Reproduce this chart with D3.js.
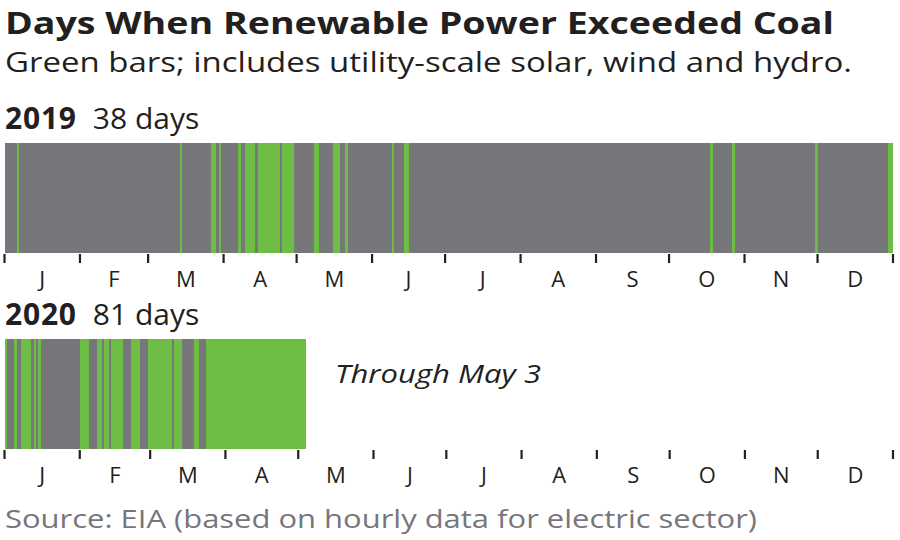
<!DOCTYPE html>
<html>
<head>
<meta charset="utf-8">
<script src="https://cdn.jsdelivr.net/npm/d3@7"></script>
<style>
  body { margin: 0; background: #fff; }
  svg { display: block; font-family: "Open Sans", "Noto Sans", sans-serif; }
</style>
</head>
<body>
<div id="chart"></div>
<script>
// day-of-year indices (0 = Jan 1) where renewables beat coal
const greenDays2019 = [5, 72, 85, 86, 88, 96, 99, 100, 101, 102,
    104, 105, 106, 107, 108, 109, 110, 111, 112, 114, 115, 116, 117, 118,
    127, 128, 135, 136, 137, 140, 159, 164, 165, 290, 299, 333, 363, 364];
const greenDays2020 = [0, 4, 7, 8, 9, 10, 12, 14, 31, 32, 33, 34, 38, 39, 41, 42,
    44, 45, 46, 47, 48, 52, 53, 54, 55, 59, 60, 61, 62, 63, 64, 65, 66, 67, 68,
    70, 71, 72, 78, 79,
    83, 84, 85, 86, 87, 88, 89, 90, 91, 92, 93, 94, 95, 96, 97, 98, 99, 100,
    101, 102, 103, 104, 105, 106, 107, 108, 109, 110, 111, 112, 113, 114, 115,
    116, 117, 118, 119, 120, 121, 122, 123];
const years = [2019, 2020];
const daysCovered = [365, 124];      // 2020 data runs through May 3
const dayCounts = ["38 days", "81 days"];

const W = 900, H = 540;
const gray = "#77767a", green = "#6dbd45", ink = "#231f20";

const svg = d3.select("#chart").append("svg")
    .attr("width", W)
    .attr("height", H);

function fitText(sel, width) {
    const len = sel.node().getComputedTextLength();
    if (Math.abs(len - width) > 2) {
        sel.attr("textLength", width).attr("lengthAdjust", "spacingAndGlyphs");
    }
}

fitText(svg.append("text")
    .attr("x", 5).attr("y", 34)
    .attr("font-size", 31).attr("font-weight", 700).attr("fill", ink)
    .text("Days When Renewable Power Exceeded Coal"), 829);

fitText(svg.append("text")
    .attr("x", 5).attr("y", 72)
    .attr("font-size", 28).attr("fill", ink)
    .text("Green bars; includes utility-scale solar, wind and hydro."), 847);

const panels = [
    { top: 143, green: greenDays2019 },
    { top: 339, green: greenDays2020 }
];
const barH = 110;

years.forEach((yr, i) => {
    const p = panels[i];
    const start = new Date(yr, 0, 1), end = new Date(yr + 1, 0, 1);
    const x = d3.scaleTime().domain([start, end]).range([4.5, 893]);
    const greenSet = new Set(p.green);

    const days = d3.range(daysCovered[i]).map(d => ({
        date: d3.timeDay.offset(start, d),
        green: greenSet.has(d)
    }));

    // year heading
    const head = svg.append("text")
        .attr("x", 5).attr("y", p.top - 14)
        .attr("font-size", 30).attr("fill", ink);
    head.append("tspan").attr("font-weight", 700).attr("letter-spacing", 0.8).text(yr);
    head.append("tspan").attr("dx", 16).text(dayCounts[i]);

    const g = svg.append("g").attr("shape-rendering", "crispEdges");
    g.selectAll("rect")
        .data(days)
        .join("rect")
        .attr("x", d => x(d.date))
        .attr("y", p.top)
        .attr("width", d => x(d3.timeDay.offset(d.date, 1)) - x(d.date) + 0.3)
        .attr("height", barH)
        .attr("fill", d => d.green ? green : gray);

    // month ticks
    const months = d3.timeMonth.range(start, end);
    svg.append("g")
        .selectAll("line")
        .data(months.concat([end]))
        .join("line")
        .attr("x1", d => x(d)).attr("x2", d => x(d))
        .attr("y1", p.top + barH + 1)
        .attr("y2", p.top + barH + 10)
        .attr("stroke", ink)
        .attr("stroke-width", 2.2);

    svg.append("g")
        .selectAll("text")
        .data(months)
        .join("text")
        .attr("x", d => (x(d) + x(d3.timeMonth.offset(d, 1))) / 2)
        .attr("y", p.top + barH + 34)
        .attr("text-anchor", "middle")
        .attr("font-size", 22)
        .attr("fill", ink)
        .text(d => d3.timeFormat("%b")(d)[0]);
});

fitText(svg.append("text")
    .attr("x", 335).attr("y", 383)
    .attr("font-size", 26).attr("font-style", "italic").attr("fill", ink)
    .text("Through May 3"), 206);

fitText(svg.append("text")
    .attr("x", 5).attr("y", 528)
    .attr("font-size", 26).attr("fill", "#77767a")
    .text("Source: EIA (based on hourly data for electric sector)"), 752);
</script>
</body>
</html>
